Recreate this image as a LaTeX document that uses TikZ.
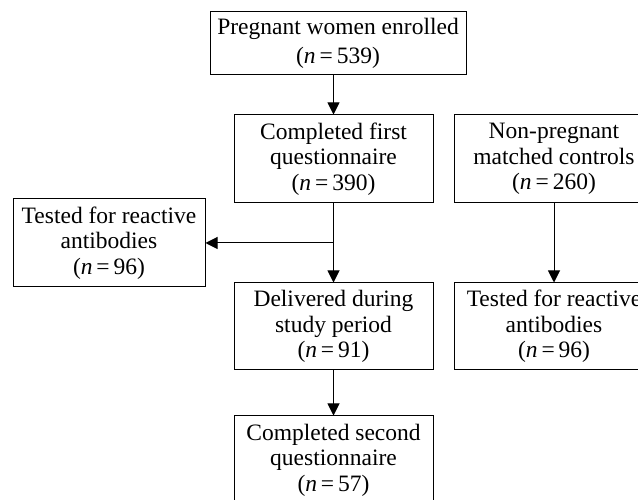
\documentclass[tikz,border=0pt]{standalone}
\usepackage{fontspec}
\setmainfont{Liberation Serif}
\usetikzlibrary{arrows.meta}
\tikzset{
  box/.style={draw, line width=1pt, align=center, inner sep=0pt, minimum width=199pt, minimum height=88pt, font=\fontsize{23.5pt}{25.5pt}\selectfont},
  arr/.style={line width=1pt, -{Triangle[width=12pt,length=12pt]}},
  ln/.style={line width=1pt}
}
\newcommand{\nn}[1]{(\textit{n}\,=\,#1)}
\begin{document}
\begin{tikzpicture}[x=1pt,y=1pt]
\clip (0,0) rectangle (638,500);
\node[box, minimum width=256pt, minimum height=63pt, font=\fontsize{23.5pt}{29pt}\selectfont] (b1) at (338,456.5) {Pregnant women enrolled\\\nn{539}};
\node[box] (b2) at (333.5,341) {Completed first\\questionnaire\\\nn{390}};
\node[box] (c1) at (554,341) {Non-pregnant\\matched controls\\\nn{260}};
\node[box, minimum width=192pt] (l1) at (109,257) {Tested for reactive\\antibodies\\\nn{96}};
\node[box, minimum height=87pt] (b3) at (333.5,173.5) {Delivered during\\study period\\\nn{91}};
\node[box, minimum height=87pt] (c2) at (554,173.5) {Tested for reactive\\antibodies\\\nn{96}};
\node[box] (b4) at (333.5,40) {Completed second\\questionnaire\\\nn{57}};
\coordinate (j) at (b2.south |- l1.east);
\draw[arr] (b2.north |- b1.south) -- (b2.north);
\draw[ln] (b2.south) -- (j);
\draw[arr] (j) -- (l1.east);
\draw[arr] (j) -- (b3.north);
\draw[arr] (c1.south) -- (c2.north);
\draw[arr] (b3.south) -- (b4.north);
\end{tikzpicture}
\end{document}
